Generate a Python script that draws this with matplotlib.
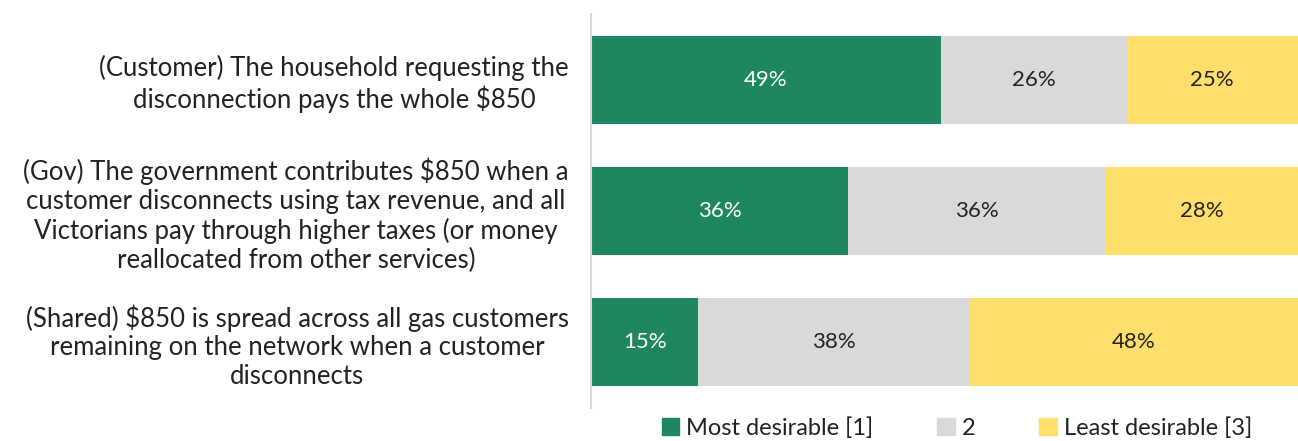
import numpy as np
import matplotlib.pyplot as plt
from matplotlib.patches import Patch

# survey options, top to bottom
options = [
    "(Customer) The household requesting the\ndisconnection pays the whole $850",
    "(Gov) The government contributes $850 when a\ncustomer disconnects using tax revenue, and all\nVictorians pay through higher taxes (or money\nreallocated from other services)",
    "(Shared) $850 is spread across all gas customers\nremaining on the network when a customer\ndisconnects",
]
most_desirable = [49, 36, 15]
middle = [26, 36, 38]
least_desirable = [25, 28, 48]

series_names = ["Most desirable [1]", "2", "Least desirable [3]"]
colors = ["#1F875F", "#D9D9D9", "#FFDF6B"]
text_colors = ["white", "#222222", "#222222"]

plt.rcParams['font.family'] = ['Lato', 'DejaVu Sans']

fig = plt.figure(figsize=(12.98, 4.41), dpi=100)
ax = fig.add_axes([591 / 1298, 33 / 441, 1 - 591 / 1298, 394 / 441])

y = np.arange(len(options))
left = np.zeros(len(options))
for vals, name, col, tcol in zip([most_desirable, middle, least_desirable],
                                 series_names, colors, text_colors):
    vals = np.array(vals, dtype=float)
    bars = ax.barh(y, vals, left=left, height=0.67, color=col, label=name)
    ax.bar_label(bars, labels=[f"{v:.0f}%" for v in vals], label_type='center',
                 color=tcol, fontsize=16)
    left += vals

ax.set_xlim(0, 99)
ax.set_ylim(len(options) - 0.5, -0.5)
ax.set_yticks(y)
ax.set_yticklabels(options, fontsize=18.5, color="#222222", multialignment='center',
                   linespacing=1.18)
ax.tick_params(axis='y', length=0, pad=16)
ax.set_xticks([])
for side in ['top', 'right', 'bottom']:
    ax.spines[side].set_visible(False)
ax.spines['left'].set_color("#D9D9D9")
ax.spines['left'].set_linewidth(1.5)

handles = [Patch(color=c) for c in colors]
fig.legend(handles, series_names, loc='center', bbox_to_anchor=(957 / 1298, 13 / 441),
           ncol=3, frameon=False, fontsize=17, handlelength=0.75, handleheight=0.75,
           handletextpad=0.3, columnspacing=2.7, labelcolor="#222222",
           borderpad=0.1)

fig.savefig("out.png", dpi=100)
